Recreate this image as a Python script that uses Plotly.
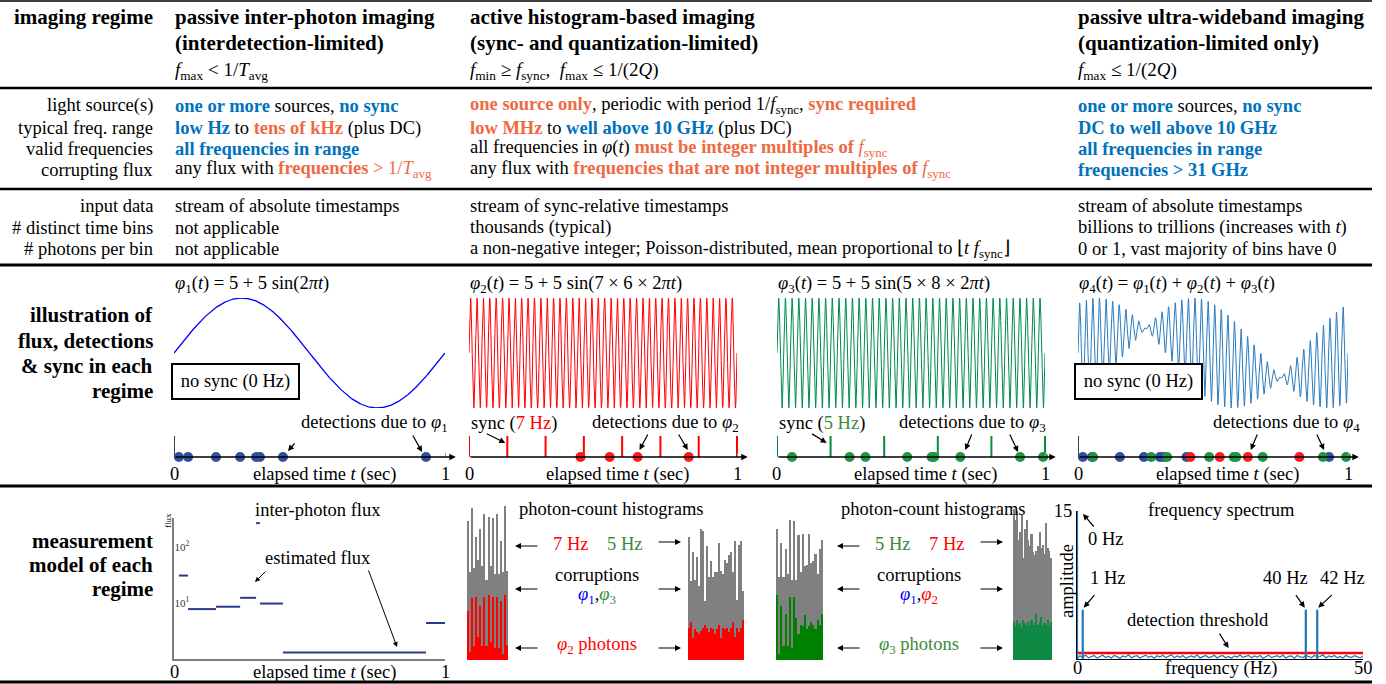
import numpy as np
import plotly.graph_objects as go

W, H = 1386, 684
SERIF = "Liberation Serif, Times New Roman, Times, serif"
TXT = 18.5
HDR = 21

BLUE_TXT = "#0072BD"
ORANGE_TXT = "#EE6A42"
RED = "#FF0000"
GREEN_TXT = "#3A8A3A"
PURE_BLUE = "#0000FF"
GRAY = "#808080"
DOT_BLUE = "#30509F"
DOT_RED = "#FF1A1A"
DOT_GREEN = "#1E9646"

# ---------------- data ----------------
# flux curves, sampled from the formulas printed on the chart
t_axis = np.linspace(0, 1, 1001)
phi_offset = 5
phi_amplitude = 5
phi1_freq_hz = 1
phi2_freq_hz = 7 * 6
phi3_freq_hz = 5 * 8
phi1 = phi_offset + phi_amplitude * np.sin(2 * np.pi * phi1_freq_hz * t_axis)
phi2 = phi_offset + phi_amplitude * np.sin(2 * np.pi * phi2_freq_hz * t_axis)
phi3 = phi_offset + phi_amplitude * np.sin(2 * np.pi * phi3_freq_hz * t_axis)
phi4 = phi1 + phi2 + phi3

# photon detection times (sec)
det_phi1 = [0.018, 0.052, 0.155, 0.244, 0.303, 0.317, 0.402, 0.930]
det_phi2 = [0.416, 0.525, 0.629, 0.820]
det_phi3 = [0.056, 0.271, 0.330, 0.486, 0.577, 0.586, 0.684, 0.907, 0.993]
sync2_hz = 7
sync3_hz = 5
sync2_times = [k / sync2_hz for k in range(sync2_hz + 1)]
sync3_times = [k / sync3_hz for k in range(sync3_hz + 1)]

# inter-photon flux estimates
flux_start = [0.018, 0.052, 0.155, 0.244, 0.303, 0.317, 0.402, 0.930]
flux_end = [0.052, 0.155, 0.244, 0.303, 0.317, 0.402, 0.930, 1.000]
flux_value = [31, 7.8, 8.6, 12.4, 268, 9.8, 1.3, 4.4]

# photon-count histograms (total counts and counts of the source of interest)
h2_sync7_total = [90, 57, 99, 60, 80, 65, 85, 61, 95, 52, 93, 61, 92, 56, 95, 56, 77, 57, 100, 58]
h2_sync7_phi2 = [32, 5, 40, 9, 41, 15, 35, 9, 41, 9, 42, 12, 41, 8, 41, 8, 38, 4, 42, 10]
h2_sync5_total = [80, 51, 70, 52, 67, 48, 85, 84, 38, 74, 54, 64, 54, 57, 57, 76, 58, 56, 65, 63,
                  68, 70, 57, 77, 39, 75, 77, 45]
h2_sync5_phi2 = [21, 25, 14, 20, 18, 17, 19, 21, 23, 21, 18, 21, 20, 17, 20, 23, 14, 21, 20, 21,
                 18, 21, 25, 15, 21, 18, 21, 26]
h3_sync5_total = [85, 54, 76, 54, 72, 56, 91, 52, 90, 52, 81, 57, 82, 61, 62, 82, 63, 64, 69, 56, 72, 78]
h3_sync5_phi3 = [42, 4, 35, 9, 30, 9, 41, 8, 41, 27, 17, 23, 22, 29, 20, 22, 25, 23, 20, 26, 23, 30]
h3_sync7_total = [98, 91, 97, 78, 83, 94, 66, 85, 91, 78, 74, 82, 70, 68, 71, 74, 83, 73, 75, 69,
                  89, 73, 71, 66]
h3_sync7_phi3 = [25, 22, 26, 23, 24, 21, 26, 24, 22, 25, 23, 26, 23, 24, 30, 23, 25, 28, 22, 24,
                 23, 26, 22, 25]

# frequency spectrum
spike_freq_hz = [0, 1, 40, 42]
spike_amp = [15, 5, 5, 5]
noise_freq_hz = [0.5 * (k + 1) for k in range(100)]
noise_amp = [0.32, 0.18, 0.41, 0.12, 0.27, 0.35, 0.09, 0.22, 0.38, 0.15,
             0.29, 0.11, 0.36, 0.24, 0.07, 0.31, 0.19, 0.42, 0.13, 0.26,
             0.34, 0.10, 0.21, 0.39, 0.16, 0.28, 0.08, 0.33, 0.20, 0.37,
             0.14, 0.25, 0.40, 0.12, 0.30, 0.17, 0.35, 0.09, 0.23, 0.31,
             0.18, 0.43, 0.11, 0.27, 0.36, 0.15, 0.22, 0.38, 0.10, 0.29,
             0.34, 0.13, 0.26, 0.07, 0.32, 0.20, 0.41, 0.16, 0.24, 0.37,
             0.12, 0.30, 0.19, 0.35, 0.08, 0.28, 0.39, 0.14, 0.23, 0.33,
             0.17, 0.40, 0.11, 0.26, 0.31, 0.09, 0.36, 0.21, 0.15, 0.34,
             0.27, 0.12, 0.38, 0.18, 0.25, 0.42, 0.10, 0.30, 0.20, 0.35,
             0.13, 0.29, 0.08, 0.37, 0.22, 0.16, 0.33, 0.24, 0.11, 0.30]
threshold_amp = 0.6

# ---------------- helpers ----------------
def px_x(p):
    return p / W


def px_y(p):
    return 1 - p / H


def xdom(a, b):
    return [px_x(a), px_x(b)]


def ydom(top, bot):
    return [px_y(bot), px_y(top)]


fig = go.Figure()
layout = {}
annotations = []
shapes = []


def set_axes(n, xd, yd, xr, yr, xkw=None, ykw=None):
    sx = "" if n == 1 else str(n)
    base = dict(showgrid=False, zeroline=False, fixedrange=True, visible=False, automargin=False)
    xa = dict(base, domain=xd, range=xr, anchor="y" + sx)
    ya = dict(base, domain=yd, range=yr, anchor="x" + sx)
    if xkw:
        xa.update(xkw)
    if ykw:
        ya.update(ykw)
    layout["xaxis" + sx] = xa
    layout["yaxis" + sx] = ya
    return "x" + sx, "y" + sx


def vsegs(xs, y0, y1):
    xx, yy = [], []
    for v in xs:
        xx += [v, v, None]
        yy += [y0, y1, None]
    return xx, yy


def text(xp, yp, s, anchor="left", size=TXT, color="black", **kw):
    annotations.append(dict(xref="paper", yref="paper", x=px_x(xp), y=px_y(yp), text=s,
                            showarrow=False, xanchor=anchor, yanchor="middle",
                            font=dict(family=SERIF, size=size, color=color), **kw))


def axis_label(xr, xv, yp, s, anchor="center"):
    annotations.append(dict(xref=xr, yref="paper", x=xv, y=px_y(yp), text=s, showarrow=False,
                            xanchor=anchor, yanchor="middle", font=dict(family=SERIF, size=TXT)))


def arrow_px(xh, yh, xt, yt, width=1.2):
    annotations.append(dict(xref="paper", yref="paper", x=px_x(xh), y=px_y(yh), text="",
                            showarrow=True, ax=xt - xh, ay=yt - yh, arrowhead=2, arrowsize=1,
                            arrowwidth=width, arrowcolor="black", standoff=0, startstandoff=0))


def arrow_data(xr, yr, x, y, dx, dy, ax, ay):
    annotations.append(dict(xref=xr, yref=yr, x=x, y=y, xshift=dx, yshift=dy, text="",
                            showarrow=True, ax=ax, ay=ay, arrowhead=2, arrowsize=1,
                            arrowwidth=1.2, arrowcolor="black", standoff=0, startstandoff=0))


def bc(s, c):
    return f"<b><span style='color:{c}'>{s}</span></b>"


def c(s, col):
    return f"<span style='color:{col}'>{s}</span>"


# ---------------- rules ----------------
for yp, w in [(1, 1.5), (88, 2.5), (189, 2.5), (265, 3), (486, 3), (682, 3)]:
    shapes.append(dict(type="line", xref="paper", yref="paper", x0=0, x1=px_x(1372),
                       y0=px_y(yp), y1=px_y(yp), line=dict(color="black", width=w)))

# ---------------- header ----------------
text(155, 17, "<b>imaging regime</b>", anchor="right", size=HDR)
text(173, 17, "<b>passive inter-photon imaging</b>", size=HDR)
text(173, 43, "<b>(interdetection-limited)</b>", size=HDR)
text(173, 71, "<i>f</i><sub>max</sub> &lt; 1/<i>T</i><sub>avg</sub>", size=19)
text(468, 17, "<b>active histogram-based imaging</b>", size=HDR)
text(468, 43, "<b>(sync- and quantization-limited)</b>", size=HDR)
text(468, 71, "<i>f</i><sub>min</sub> ≥ <i>f</i><sub>sync</sub>,  <i>f</i><sub>max</sub> ≤ 1/(2<i>Q</i>)", size=19)
text(1076, 17, "<b>passive ultra-wideband imaging</b>", size=HDR)
text(1076, 43, "<b>(quantization-limited only)</b>", size=HDR)
text(1076, 71, "<i>f</i><sub>max</sub> ≤ 1/(2<i>Q</i>)", size=19)

# ---------------- property rows ----------------
fsync_or = f"<i>{c('f', ORANGE_TXT)}</i>{c('<sub>sync</sub>', ORANGE_TXT)}"
rows2 = [
    (106, "light source(s)",
     f"{bc('one or more', BLUE_TXT)} sources, {bc('no sync', BLUE_TXT)}",
     f"{bc('one source only', ORANGE_TXT)}, periodic with period 1/<i>f</i><sub>sync</sub>, {bc('sync required', ORANGE_TXT)}",
     f"{bc('one or more', BLUE_TXT)} sources, {bc('no sync', BLUE_TXT)}"),
    (128, "typical freq. range",
     f"{bc('low Hz', BLUE_TXT)} to {bc('tens of kHz', ORANGE_TXT)} (plus DC)",
     f"{bc('low MHz', ORANGE_TXT)} to {bc('well above 10 GHz', BLUE_TXT)} (plus DC)",
     f"{bc('DC to well above 10 GHz', BLUE_TXT)}"),
    (149, "valid frequencies",
     f"{bc('all frequencies in range', BLUE_TXT)}",
     f"all frequencies in <i>φ</i>(<i>t</i>) {bc('must be integer multiples of', ORANGE_TXT)} {fsync_or}",
     f"{bc('all frequencies in range', BLUE_TXT)}"),
    (170, "corrupting flux",
     f"any flux with {bc('frequencies', ORANGE_TXT)} {c('&gt; 1/', ORANGE_TXT)}<i>{c('T', ORANGE_TXT)}</i>{c('<sub>avg</sub>', ORANGE_TXT)}",
     f"any flux with {bc('frequencies that are not integer multiples of', ORANGE_TXT)} {fsync_or}",
     f"{bc('frequencies &gt; 31 GHz', BLUE_TXT)}"),
]
rows3 = [
    (206, "input data", "stream of absolute timestamps", "stream of sync-relative timestamps",
     "stream of absolute timestamps"),
    (228, "# distinct time bins", "not applicable", "thousands (typical)",
     "billions to trillions (increases with <i>t</i>)"),
    (249, "# photons per bin", "not applicable",
     "a non-negative integer; Poisson-distributed, mean proportional to ⌊<i>t f</i><sub>sync</sub>⌋",
     "0 or 1, vast majority of bins have 0"),
]
for yp, lab, c1, c2, c4 in rows2 + rows3:
    text(155, yp, lab, anchor="right")
    text(173, yp, c1)
    text(468, yp, c2)
    text(1076, yp, c4)

# ---------------- illustration row ----------------
for yp, s in [(315, "illustration of"), (341, "flux, detections"), (366, "&amp; sync in each"), (391, "regime")]:
    text(155, yp, f"<b>{s}</b>", anchor="right", size=HDR)

cols = [(174, 445), (469, 737), (777, 1045), (1078, 1348)]
waves = [(phi1, PURE_BLUE, 1.3), (phi2, RED, 1.0), (phi3, "#008A4A", 1.0), (phi4, "#2B7BBF", 1.0)]
wave_titles = [
    "<i>φ</i><sub>1</sub>(<i>t</i>) = 5 + 5 sin(2<i>πt</i>)",
    "<i>φ</i><sub>2</sub>(<i>t</i>) = 5 + 5 sin(7 × 6 × 2<i>πt</i>)",
    "<i>φ</i><sub>3</sub>(<i>t</i>) = 5 + 5 sin(5 × 8 × 2<i>πt</i>)",
    "<i>φ</i><sub>4</sub>(<i>t</i>) = <i>φ</i><sub>1</sub>(<i>t</i>) + <i>φ</i><sub>2</sub>(<i>t</i>) + <i>φ</i><sub>3</sub>(<i>t</i>)",
]
tl_axes = []
for i, ((x0, x1), (yv, col, lw)) in enumerate(zip(cols, waves)):
    yr = [0, 10] if i < 3 else [float(np.min(phi4)), float(np.max(phi4))]
    xa, ya = set_axes(i + 1, xdom(x0, x1), ydom(298, 408), [0, 1], yr)
    fig.add_trace(go.Scatter(x=t_axis, y=yv, mode="lines", line=dict(color=col, width=lw),
                             xaxis=xa, yaxis=ya, hoverinfo="skip"))
    text(x0 - 1, 284, wave_titles[i])
    span = x1 - x0
    xa2, ya2 = set_axes(5 + i, xdom(x0, x0 + 1.04 * span), ydom(436, 457), [0, 1.04], [0, 1],
                        xkw=dict(visible=True, showline=False, tickvals=[0, 1], ticktext=["", ""],
                                 ticks="inside", ticklen=4, tickcolor="#999"))
    tl_axes.append((xa2, ya2))
    # time axis arrow
    annotations.append(dict(xref=xa2, yref=ya2, axref=xa2, ayref=ya2, x=1.04, y=0, ax=0, ay=0,
                            text="", showarrow=True, arrowhead=2, arrowsize=1, arrowwidth=1.3,
                            arrowcolor="black", standoff=0))
    axis_label(xa2, 0, 474, "0")
    axis_label(xa2, 1, 474, "1")
    axis_label(xa2, 0.555, 474, "elapsed time <i>t</i> (sec)")

# panel 1 timeline
xa, ya = tl_axes[0]
xx, yy = vsegs([0], 0, 1.05)
fig.add_trace(go.Scatter(x=xx, y=yy, mode="lines", line=dict(color="black", width=1.5),
                         xaxis=xa, yaxis=ya, hoverinfo="skip"))
fig.add_trace(go.Scatter(x=det_phi1, y=[0] * len(det_phi1), mode="markers", cliponaxis=False,
                         marker=dict(color=DOT_BLUE, size=10), xaxis=xa, yaxis=ya, hoverinfo="skip"))
# panel 2 timeline
xa, ya = tl_axes[1]
xx, yy = vsegs(sync2_times, 0, 1)
fig.add_trace(go.Scatter(x=xx, y=yy, mode="lines", line=dict(color=RED, width=2), cliponaxis=False,
                         xaxis=xa, yaxis=ya, hoverinfo="skip"))
fig.add_trace(go.Scatter(x=det_phi2, y=[0] * len(det_phi2), mode="markers", cliponaxis=False,
                         marker=dict(color=DOT_RED, size=10), xaxis=xa, yaxis=ya, hoverinfo="skip"))
# panel 3 timeline
xa, ya = tl_axes[2]
xx, yy = vsegs(sync3_times, 0, 1)
fig.add_trace(go.Scatter(x=xx, y=yy, mode="lines", line=dict(color="#0A8A3A", width=2), cliponaxis=False,
                         xaxis=xa, yaxis=ya, hoverinfo="skip"))
fig.add_trace(go.Scatter(x=det_phi3, y=[0] * len(det_phi3), mode="markers", cliponaxis=False,
                         marker=dict(color=DOT_GREEN, size=10), xaxis=xa, yaxis=ya, hoverinfo="skip"))
# panel 4 timeline
xa, ya = tl_axes[3]
xx, yy = vsegs([0], 0, 1.05)
fig.add_trace(go.Scatter(x=xx, y=yy, mode="lines", line=dict(color="black", width=1.5),
                         xaxis=xa, yaxis=ya, hoverinfo="skip"))
for det, colr in [(det_phi1, DOT_BLUE), (det_phi3, DOT_GREEN), (det_phi2, DOT_RED)]:
    fig.add_trace(go.Scatter(x=det, y=[0] * len(det), mode="markers", cliponaxis=False,
                             marker=dict(color=colr, size=10), xaxis=xa, yaxis=ya, hoverinfo="skip"))

# "no sync" boxes
for cx in [235.5, 1138]:
    annotations.append(dict(xref="paper", yref="paper", x=px_x(cx), y=px_y(381.5), text="no sync (0 Hz)",
                            showarrow=False, xanchor="center", yanchor="middle", width=121, height=29,
                            bgcolor="white", bordercolor="black", borderwidth=2, borderpad=2,
                            font=dict(family=SERIF, size=TXT)))

# labels and arrows in timelines
text(450, 423, "detections due to <i>φ</i><sub>1</sub>", anchor="right")
text(469, 423, f"sync ({c('7 Hz', RED)})")
text(741, 423, "detections due to <i>φ</i><sub>2</sub>", anchor="right")
text(777, 423, f"sync ({c('5 Hz', GREEN_TXT)})")
text(1048, 423, "detections due to <i>φ</i><sub>3</sub>", anchor="right")
text(1362, 423, "detections due to <i>φ</i><sub>4</sub>", anchor="right")

xa, ya = tl_axes[0]
arrow_data(xa, ya, det_phi1[6], 0, 5, 6, 8, -9)
arrow_data(xa, ya, det_phi1[7], 0, -4, 5, -10, -18)
xa, ya = tl_axes[1]
arrow_data(xa, ya, sync2_times[1], 0.67, -2, 0, -20, -10)
arrow_data(xa, ya, det_phi2[2], 0, 2, 7, 9, -17)
arrow_data(xa, ya, det_phi2[3], 0, -1, 7, -10, -17)
xa, ya = tl_axes[2]
arrow_data(xa, ya, sync3_times[1], 0.67, -4, 0, -16, -10)
arrow_data(xa, ya, det_phi3[6], 0, 5, 7, 7, -17)
arrow_data(xa, ya, det_phi3[7], 0, -2, 5, -9, -19)
xa, ya = tl_axes[3]
arrow_data(xa, ya, det_phi2[2], 0, 3, 7, 7, -17)
arrow_data(xa, ya, det_phi1[7], 0, -5, 7, -8, -17)

# ---------------- measurement row ----------------
for yp, s in [(541, "measurement"), (565, "model of each"), (589, "regime")]:
    text(155, yp, f"<b>{s}</b>", anchor="right", size=HDR)

# inter-photon flux panel
xa, ya = set_axes(9, xdom(174, 445), ydom(518, 659), [0, 1], [0, 2.52],
                  xkw=dict(visible=True, showline=True, linecolor="#7F7F7F", linewidth=1.5,
                           tickvals=[0, 1], ticktext=["", ""], ticks="inside", ticklen=4,
                           tickcolor="#7F7F7F"),
                  ykw=dict(visible=True, type="log", showline=True, linecolor="#7F7F7F", linewidth=1.5,
                           tickvals=[10, 100], ticktext=["10<sup>1</sup>", "10<sup>2</sup>"],
                           ticks="", ticklabelposition="inside",
                           tickfont=dict(family=SERIF, size=11, color="#333")))
fx, fy = [], []
for s0, s1, v in zip(flux_start, flux_end, flux_value):
    fx += [s0, s1, None]
    fy += [v, v, None]
fig.add_trace(go.Scatter(x=fx, y=fy, mode="lines", line=dict(color="#2B3A8F", width=2),
                         xaxis=xa, yaxis=ya, hoverinfo="skip"))
axis_label(xa, 0, 672, "0")
axis_label(xa, 1, 672, "1")
axis_label(xa, 0.555, 672, "elapsed time <i>t</i> (sec)")
text(168, 521, "flux", anchor="center", size=9, textangle=-90)
text(318, 510, "inter-photon flux", anchor="center")
text(318, 558, "estimated flux", anchor="center")
arrow_px(255, 582, 267, 570, width=1.0)
arrow_px(397, 647, 368, 569, width=1.0)

# histograms
hists = [
    (10, 467, 508, h2_sync7_total, h2_sync7_phi2, RED),
    (11, 688, 744, h2_sync5_total, h2_sync5_phi2, RED),
    (12, 776, 823, h3_sync5_total, h3_sync5_phi3, "#008000"),
    (13, 1013, 1052, h3_sync7_total, h3_sync7_phi3, "#0E8A44"),
]
for n, x0, x1, tot, sig, colr in hists:
    bins = list(range(len(tot)))
    xa, ya = set_axes(n, xdom(x0, x1), ydom(506, 660), [-0.5, len(tot) - 0.5], [0, 100])
    fig.add_trace(go.Bar(x=bins, y=tot, marker=dict(color=GRAY, line=dict(width=0)), width=1.0,
                         xaxis=xa, yaxis=ya, hoverinfo="skip"))
    fig.add_trace(go.Bar(x=bins, y=sig, marker=dict(color=colr, line=dict(width=0)), width=1.0,
                         xaxis=xa, yaxis=ya, hoverinfo="skip"))

PHI_BLUE = "#0000FF"
for cx, first, second, corr, phot in [
    (597, c("7 Hz", RED), c("5 Hz", GREEN_TXT),
     f"{c('<i>φ</i><sub>1</sub>', PHI_BLUE)},{c('<i>φ</i><sub>3</sub>', GREEN_TXT)}",
     c("<i>φ</i><sub>2</sub> photons", RED)),
    (919, c("5 Hz", GREEN_TXT), c("7 Hz", RED),
     f"{c('<i>φ</i><sub>1</sub>', PHI_BLUE)},{c('<i>φ</i><sub>2</sub>', RED)}",
     c("<i>φ</i><sub>3</sub> photons", GREEN_TXT)),
]:
    text(cx + 14, 509, "photon-count histograms", anchor="center")
    text(cx - 27, 544, first, anchor="center")
    text(cx + 27, 544, second, anchor="center")
    text(cx, 575, "corruptions", anchor="center")
    text(cx, 595, corr, anchor="center")
    text(cx, 645, phot, anchor="center")
    for yy_ in [546, 589, 648]:
        arrow_px(cx - 82, yy_, cx - 58, yy_)
        arrow_px(cx + 84, yy_ - (4 if yy_ == 546 else 0), cx + 60, yy_ - (4 if yy_ == 546 else 0))

# frequency spectrum
xa, ya = set_axes(14, xdom(1077, 1363), ydom(511, 659), [0, 50], [0, 15],
                  xkw=dict(visible=True, showline=True, linecolor="black", linewidth=1.2,
                           tickvals=[0, 50], ticktext=["", ""], ticks=""),
                  ykw=dict(visible=True, showline=True, linecolor="black", linewidth=1.2,
                           tickvals=[15], ticktext=["15"], ticks="",
                           tickfont=dict(family=SERIF, size=TXT)))
fig.add_trace(go.Scatter(x=[0] + noise_freq_hz, y=[0] + noise_amp, mode="lines",
                         line=dict(color="#1F77B4", width=1.2), xaxis=xa, yaxis=ya, hoverinfo="skip"))
fig.add_trace(go.Scatter(x=[0, 50], y=[threshold_amp, threshold_amp], mode="lines",
                         line=dict(color=RED, width=2.5), xaxis=xa, yaxis=ya, hoverinfo="skip"))
sx, _ = vsegs(spike_freq_hz, 0, 0)
sy = []
for a in spike_amp:
    sy += [0, a, None]
fig.add_trace(go.Scatter(x=sx, y=sy, mode="lines", line=dict(color="#1F77B4", width=2.2),
                         cliponaxis=False, xaxis=xa, yaxis=ya, hoverinfo="skip"))
axis_label(xa, 0, 668, "0")
axis_label(xa, 50, 668, "50")
axis_label(xa, 25.2, 668, "frequency (Hz)")
text(1221, 510, "frequency spectrum", anchor="center")
text(1105, 539, "0 Hz", anchor="center")
text(1107, 578, "1 Hz", anchor="center")
text(1285, 578, "40 Hz", anchor="center")
text(1342, 578, "42 Hz", anchor="center")
text(1198, 620, "detection threshold", anchor="center")
text(1067, 581, "amplitude", anchor="center", textangle=-90)
arrow_data(xa, ya, spike_freq_hz[0], spike_amp[0], 6, -3, 12, 14)
arrow_data(xa, ya, spike_freq_hz[1], spike_amp[1], 1, 2, 12, -14)
arrow_data(xa, ya, spike_freq_hz[2], spike_amp[2], -1, 2, -10, -14)
arrow_data(xa, ya, spike_freq_hz[3], spike_amp[3], 1, 2, 15, -14)
arrow_data(xa, ya, 26.5, threshold_amp, 0, 5, -10, -16)

fig.update_layout(width=W, height=H, margin=dict(l=0, r=0, t=0, b=0, pad=0, autoexpand=False),
                  autosize=False,
                  paper_bgcolor="white", plot_bgcolor="white", showlegend=False,
                  barmode="overlay", bargap=0,
                  font=dict(family=SERIF, size=TXT, color="black"),
                  annotations=annotations, shapes=shapes, **layout)

PAGE_FIX = ("var d=document.getElementById('{plot_id}');"
            "d.style.position='absolute';d.style.top='0px';d.style.left='0px';"
            "document.documentElement.style.margin='0';document.body.style.margin='0';"
            "document.body.style.padding='0';document.body.style.overflow='hidden';"
            "document.documentElement.style.overflow='hidden';")
fig.write_html("out.html", config={"displayModeBar": False}, post_script=PAGE_FIX)
